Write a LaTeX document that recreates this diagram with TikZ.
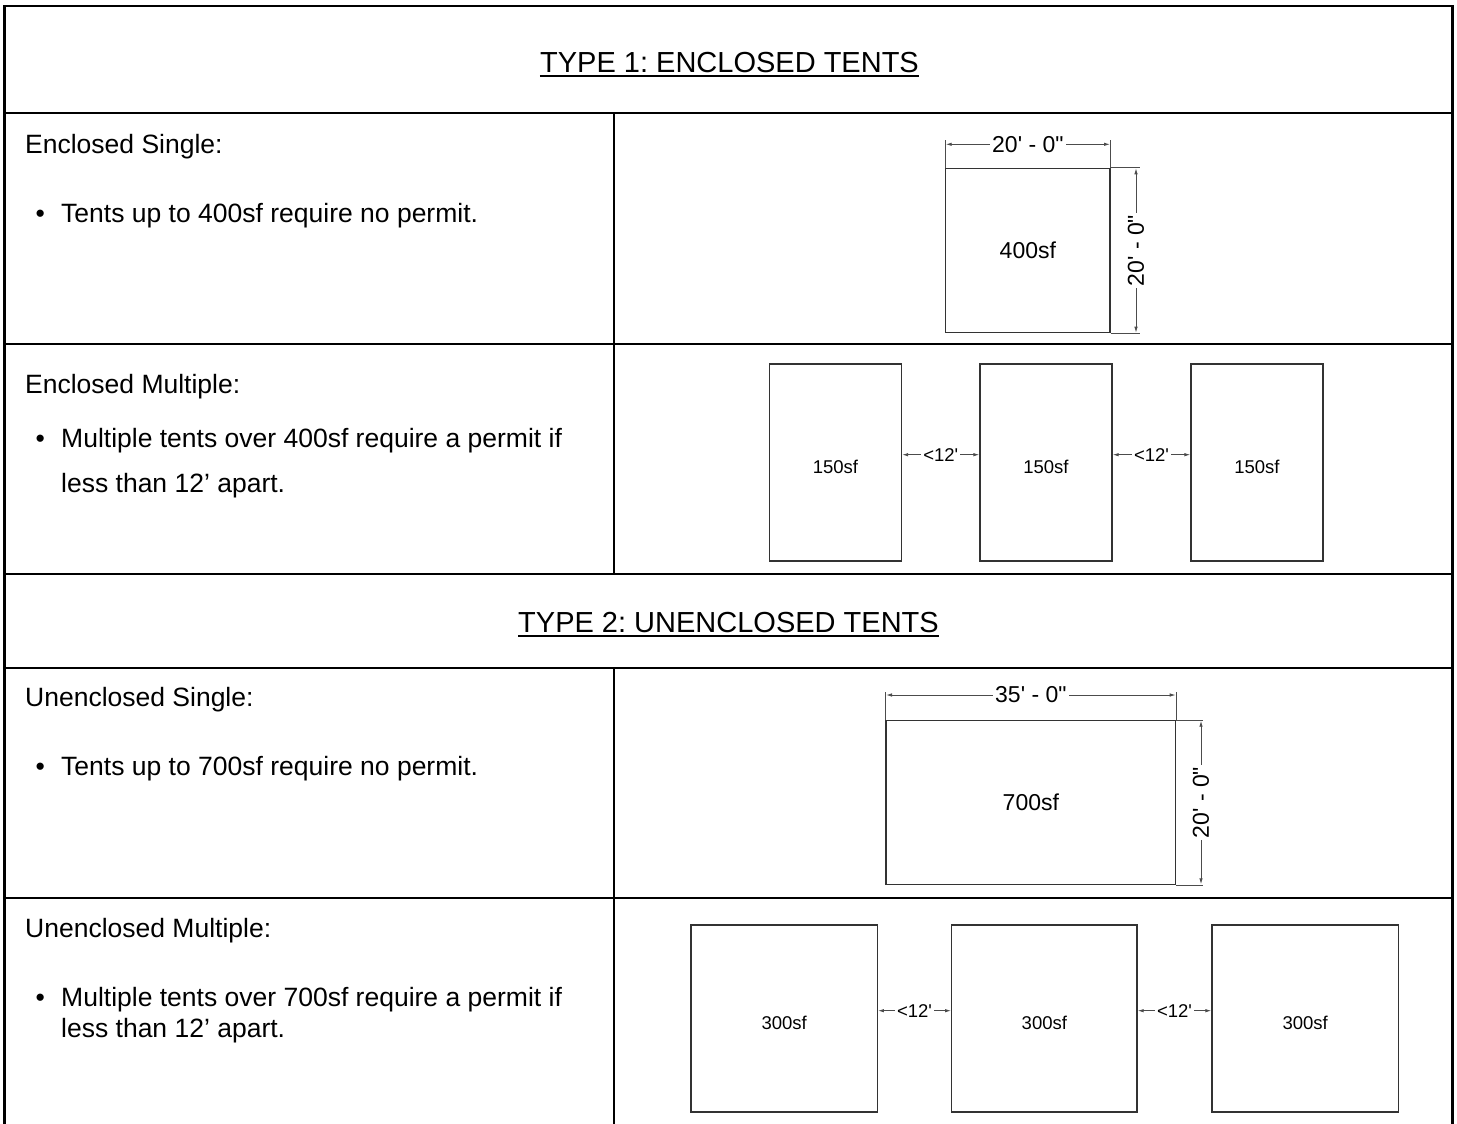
\documentclass[tikz,border=0pt]{standalone}
\usepackage{fontspec}
\setmainfont{Liberation Sans}
\usetikzlibrary{arrows.meta}
\frenchspacing
\begin{document}
\begin{tikzpicture}[x=1pt,y=-1pt,
  grid/.style={line width=2.8pt,black,line cap=square},
  tent/.style={draw=black!80,line width=1.3pt,inner sep=0pt},
  headtxt/.style={font=\fontsize{29}{34}\selectfont,inner sep=0pt},
  uline/.style={line width=1.5pt,black},
  bodytxt/.style={font=\fontsize{26.5}{32}\selectfont,inner sep=0pt},
  dimlbl/.style={font=\fontsize{23}{27}\selectfont,inner sep=2pt,fill=white},
  smalltxt/.style={font=\fontsize{18.5}{22}\selectfont,text height=21pt,text depth=0pt},
  smalllbl/.style={font=\fontsize{18.5}{22}\selectfont,inner sep=2pt,fill=white},
  ext/.style={draw=black!70,line width=0.9pt},
  dimarr/.style={draw=black!70,line width=0.9pt,{Latex[length=6pt,width=3.5pt]}-{Latex[length=6pt,width=3.5pt]}},
]
\useasboundingbox (0,0) rectangle (1457,1124);
% table grid
\draw[grid] (4.5,1135) -- (4.5,6) -- (1452.5,6) -- (1452.5,1135);
\foreach \yy in {113,344,574,668,898} \draw[grid] (4.5,\yy) -- (1452.5,\yy);
\draw[grid] (614,113) -- (614,574);
\draw[grid] (614,668) -- (614,1135);
% headers
\node[headtxt,anchor=base] (h1) at (729.5,72.5) {TYPE 1: ENCLOSED TENTS};
\draw[uline] ([yshift=-3.5pt]h1.base west) -- ([yshift=-3.5pt]h1.base east);
\node[headtxt,anchor=base] (h2) at (728.5,632.5) {TYPE 2: UNENCLOSED TENTS};
\draw[uline] ([yshift=-3.5pt]h2.base west) -- ([yshift=-3.5pt]h2.base east);
% left texts
\node[bodytxt,anchor=base west] (s1) at (25,153) {Enclosed Single:};
\node[bodytxt,anchor=base west] (s1b) at (35.5,222) {\makebox[25.5pt][l]{•}Tents up to 400sf require no permit.};
\node[bodytxt,anchor=base west] (s2) at (25,393) {Enclosed Multiple:};
\node[bodytxt,anchor=base west] (s2b) at (35.5,447) {\makebox[25.5pt][l]{•}Multiple tents over 400sf require a permit if};
\node[bodytxt,anchor=base west] (s2c) at (61,492) {less than 12' apart.};
\node[bodytxt,anchor=base west] (s3) at (25,706) {Unenclosed Single:};
\node[bodytxt,anchor=base west] (s3b) at (35.5,775) {\makebox[25.5pt][l]{•}Tents up to 700sf require no permit.};
\node[bodytxt,anchor=base west] (s4) at (25,937) {Unenclosed Multiple:};
\node[bodytxt,anchor=base west] (s4b) at (35.5,1006) {\makebox[25.5pt][l]{•}Multiple tents over 700sf require a permit if};
\node[bodytxt,anchor=base west] (s4c) at (61,1037) {less than 12' apart.};
% enclosed single
\node[tent,minimum width=164.3pt,minimum height=164.4pt,font=\fontsize{23}{27}\selectfont] (t1) at (1027.85,250.5) {400sf};
\draw[ext] (t1.north west) -- ++(0,-28);
\draw[ext] (t1.north east) -- ++(0,-28);
\draw[ext] (t1.north east) -- ++(29,0);
\draw[ext] (t1.south east) -- ++(29,0);
\coordinate (d1l) at (945.7,144.3);
\coordinate (d1r) at (1110,144.3);
\draw[dimarr] (d1l) -- (d1r) node[midway,dimlbl] {20\textquotesingle{} - 0\textquotedbl};
\coordinate (v1t) at (1136,168.3);
\coordinate (v1b) at (1136,332.7);
\draw[dimarr] (v1t) -- (v1b) node[midway,dimlbl,rotate=90] {20\textquotesingle{} - 0\textquotedbl};
% enclosed multiple
\node[tent,minimum width=132pt,minimum height=197pt,smalltxt] (m1) at (835.5,462.5) {150sf};
\node[tent,minimum width=132pt,minimum height=197pt,smalltxt] (m2) at (1046,462.5) {150sf};
\node[tent,minimum width=132pt,minimum height=197pt,smalltxt] (m3) at (1257,462.5) {150sf};
\draw[dimarr] ([yshift=7.8pt]m1.east) -- ([yshift=7.8pt]m2.west) node[midway,smalllbl] {<12\textquotesingle};
\draw[dimarr] ([yshift=7.8pt]m2.east) -- ([yshift=7.8pt]m3.west) node[midway,smalllbl] {<12\textquotesingle};
% unenclosed single
\node[tent,minimum width=289.7pt,minimum height=163.6pt,font=\fontsize{23}{27}\selectfont] (t2) at (1030.85,802.5) {700sf};
\draw[ext] (t2.north west) -- ++(0,-28);
\draw[ext] (t2.north east) -- ++(0,-28);
\draw[ext] (t2.north east) -- ++(27,0);
\draw[ext] (t2.south east) -- ++(27,0);
\coordinate (d2l) at (886,695);
\coordinate (d2r) at (1175.7,695);
\draw[dimarr] (d2l) -- (d2r) node[midway,dimlbl] {35\textquotesingle{} - 0\textquotedbl};
\coordinate (v2t) at (1201,720.7);
\coordinate (v2b) at (1201,884.3);
\draw[dimarr] (v2t) -- (v2b) node[midway,dimlbl,rotate=90] {20\textquotesingle{} - 0\textquotedbl};
% unenclosed multiple
\node[tent,minimum width=186.3pt,minimum height=187pt,smalltxt] (u1) at (784.15,1018.5) {300sf};
\node[tent,minimum width=185.3pt,minimum height=187pt,smalltxt] (u2) at (1044.35,1018.5) {300sf};
\node[tent,minimum width=186.3pt,minimum height=187pt,smalltxt] (u3) at (1305.15,1018.5) {300sf};
\draw[dimarr] ([yshift=7.8pt]u1.east) -- ([yshift=7.8pt]u2.west) node[midway,smalllbl] {<12\textquotesingle};
\draw[dimarr] ([yshift=7.8pt]u2.east) -- ([yshift=7.8pt]u3.west) node[midway,smalllbl] {<12\textquotesingle};
\end{tikzpicture}
\end{document}
